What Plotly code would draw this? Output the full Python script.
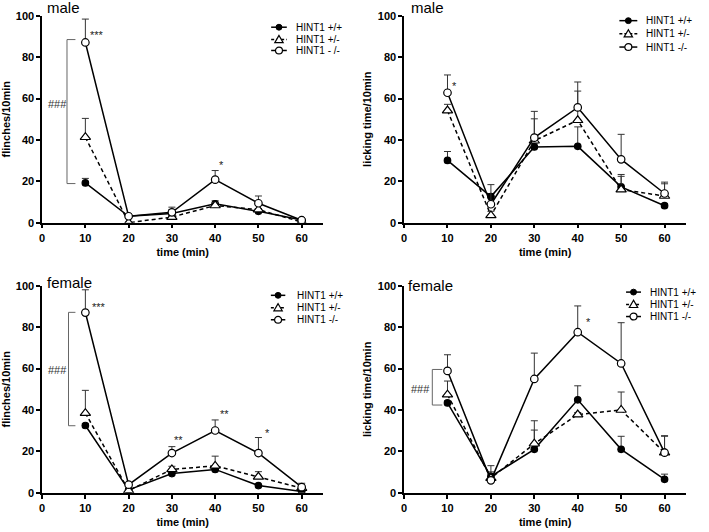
import plotly.graph_objects as go

# ---------------- data ----------------
time_min = [10, 20, 30, 40, 50, 60]
genotypes = ["HINT1 +/+", "HINT1 +/-", "HINT1 -/-"]
legend_labels_p1 = ["HINT1 +/+", "HINT1 +/-", "HINT1 - /-"]
panel_titles = ["male", "male", "female", "female"]
y_titles = ["flinches/10min", "licking time/10min", "flinches/10min", "licking time/10min"]
x_title = "time (min)"
x_ticks = [0, 10, 20, 30, 40, 50, 60]
y_ticks = [0, 20, 40, 60, 80, 100]

# male flinches
m_fl_wt = [19.2, 3.1, 4.4, 9.1, 5.5, 1.3]
m_fl_wt_err = [2.2, 0.5, 2.0, 1.5, 1.0, 0.3]
m_fl_het = [41.3, 0.0, 2.7, 8.3, 6.3, 0.3]
m_fl_het_err = [9.1, 0.3, 0.5, 1.5, 0.5, 0.3]
m_fl_ko = [87.1, 3.1, 5.0, 20.8, 9.4, 1.2]
m_fl_ko_err = [11.3, 0.5, 2.5, 4.4, 3.5, 0.3]

# male licking
m_lk_wt = [30.1, 12.6, 36.6, 36.9, 17.3, 8.2]
m_lk_wt_err = [4.3, 1.5, 1.5, 9.4, 6.0, 1.0]
m_lk_het = [54.2, 3.5, 39.6, 49.5, 16.0, 12.9]
m_lk_het_err = [3.0, 2.0, 10.6, 14.1, 6.4, 5.9]
m_lk_ko = [62.8, 8.9, 41.1, 55.7, 30.6, 14.1]
m_lk_ko_err = [8.6, 9.5, 12.7, 12.3, 12.1, 5.5]

# female flinches
f_fl_wt = [32.5, 1.4, 9.3, 11.3, 3.5, 0.6]
f_fl_wt_err = [1.0, 0.5, 1.0, 1.5, 0.5, 0.3]
f_fl_het = [38.5, 1.1, 11.3, 13.0, 7.7, 2.2]
f_fl_het_err = [11.0, 0.3, 1.5, 4.7, 2.5, 0.5]
f_fl_ko = [87.1, 3.9, 19.2, 30.1, 19.2, 2.7]
f_fl_ko_err = [11.0, 0.5, 3.1, 5.1, 7.5, 1.9]

# female licking
f_lk_wt = [43.4, 7.9, 21.0, 44.9, 21.0, 6.5]
f_lk_wt_err = [1.0, 5.2, 9.3, 6.8, 6.3, 2.5]
f_lk_het = [47.4, 7.1, 23.7, 37.8, 40.0, 19.4]
f_lk_het_err = [6.6, 3.0, 11.1, 1.0, 8.7, 8.2]
f_lk_ko = [58.9, 6.0, 55.0, 77.6, 62.5, 19.4]
f_lk_ko_err = [7.8, 1.0, 12.5, 12.7, 19.7, 7.9]

# significance marks (text, x, y) per panel
stars_p1 = [("***", 12.8, 90.5), ("*", 41.4, 27.9)]
stars_p2 = [("*", 11.7, 65.9)]
stars_p3 = [("***", 13.2, 89.9), ("**", 31.6, 25.4), ("**", 42.2, 37.9), ("*", 52.1, 29.0)]
stars_p4 = [("*", 42.4, 82.3)]

# "###" bracket: (x_line, x_tick_end, y_low, y_high, text_x, text_y)
bracket_p1 = (5.75, 7.7, 18.9, 88.5, 3.45, 57.5)
bracket_p3 = (6.1, 7.7, 32.4, 87.2, 3.6, 59.5)
bracket_p4 = (6.5, 8.8, 42.4, 59.6, 3.8, 50.0)

# ---------------- layout helpers ----------------
W, H = 709, 532
FONT = "Arial, Liberation Sans, sans-serif"

x_domains = [[0.0554, 0.4537], [0.5681, 0.9678], [0.0554, 0.4537], [0.5681, 0.9678]]
y_domains = [[0.5833, 0.9812], [0.5833, 0.9812], [0.0639, 0.4618], [0.0639, 0.4618]]

panels = [
    (m_fl_wt, m_fl_wt_err, m_fl_het, m_fl_het_err, m_fl_ko, m_fl_ko_err),
    (m_lk_wt, m_lk_wt_err, m_lk_het, m_lk_het_err, m_lk_ko, m_lk_ko_err),
    (f_fl_wt, f_fl_wt_err, f_fl_het, f_fl_het_err, f_fl_ko, f_fl_ko_err),
    (f_lk_wt, f_lk_wt_err, f_lk_het, f_lk_het_err, f_lk_ko, f_lk_ko_err),
]

fig = go.Figure()

styles = [
    dict(dash="solid", symbol="circle", mcolor="black", size=6.5),
    dict(dash="4px,3px", symbol="triangle-up", mcolor="white", size=9),
    dict(dash="solid", symbol="circle", mcolor="white", size=7.5),
]

for i, pdata in enumerate(panels):
    xa = "x" if i == 0 else f"x{i+1}"
    ya = "y" if i == 0 else f"y{i+1}"
    series = [(pdata[0], pdata[1]), (pdata[2], pdata[3]), (pdata[4], pdata[5])]
    for j, (vals, errs) in enumerate(series):
        st = styles[j]
        fig.add_trace(go.Scatter(
            x=time_min, y=vals, xaxis=xa, yaxis=ya, mode="lines+markers",
            name=genotypes[j], showlegend=False,
            line=dict(color="black", width=1.5, dash=st["dash"]),
            marker=dict(symbol=st["symbol"], size=st["size"], color=st["mcolor"],
                        line=dict(color="black", width=1.2)),
            error_y=dict(type="data", symmetric=False, array=errs,
                         arrayminus=[0] * len(errs), color="#333333",
                         thickness=1, width=3.5),
        ))

axis_common = dict(showline=True, linecolor="black", linewidth=1.5, ticks="outside",
                   ticklen=4, tickwidth=1.5, tickcolor="black", showgrid=False,
                   zeroline=False, tickfont=dict(family=FONT, size=11, color="black",
                                                 weight="bold"))
layout_axes = {}
for i in range(4):
    xk = "xaxis" if i == 0 else f"xaxis{i+1}"
    yk = "yaxis" if i == 0 else f"yaxis{i+1}"
    ya = "y" if i == 0 else f"y{i+1}"
    xa = "x" if i == 0 else f"x{i+1}"
    layout_axes[xk] = dict(axis_common, domain=x_domains[i], anchor=ya, range=[0, 65],
                           tickvals=x_ticks,
                           title=dict(text=x_title, standoff=6,
                                      font=dict(family=FONT, size=11, color="black",
                                                weight="bold")))
    layout_axes[yk] = dict(axis_common, domain=y_domains[i], anchor=xa, range=[0, 100],
                           tickvals=y_ticks,
                           title=dict(text=y_titles[i], standoff=4,
                                      font=dict(family=FONT, size=11, color="black",
                                                weight="bold")))
fig.update_layout(**layout_axes)

annotations = []
shapes = []

# panel titles
title_pos = [(0.009, 1.038), (0.018, 1.038), (0.009, 1.014), (0.007, 1.002)]
for i in range(4):
    xa = "x" if i == 0 else f"x{i+1}"
    ya = "y" if i == 0 else f"y{i+1}"
    annotations.append(dict(text=panel_titles[i], xref=f"{xa} domain", yref=f"{ya} domain",
                            x=title_pos[i][0], y=title_pos[i][1], xanchor="left",
                            yanchor="middle", showarrow=False,
                            font=dict(family=FONT, size=15, color="black")))

# significance stars
for i, stars in [(0, stars_p1), (1, stars_p2), (2, stars_p3), (3, stars_p4)]:
    xa = "x" if i == 0 else f"x{i+1}"
    ya = "y" if i == 0 else f"y{i+1}"
    for txt, sx, sy in stars:
        annotations.append(dict(text=txt, xref=xa, yref=ya, x=sx, y=sy, showarrow=False,
                                font=dict(family=FONT, size=11, color="#222222")))

# brackets
for i, br in [(0, bracket_p1), (2, bracket_p3), (3, bracket_p4)]:
    xa = "x" if i == 0 else f"x{i+1}"
    ya = "y" if i == 0 else f"y{i+1}"
    xl, xt, y0, y1, tx, ty = br
    shapes.append(dict(type="path", xref=xa, yref=ya,
                       path=f"M {xt},{y1} L {xl},{y1} L {xl},{y0} L {xt},{y0}",
                       line=dict(color="#666666", width=1)))
    annotations.append(dict(text="###", xref=xa, yref=ya, x=tx, y=ty, showarrow=False,
                            font=dict(family=FONT, size=11, color="#333333")))

# manual legends (pixel positions -> paper)
def px(xp):
    return xp / W

def py(yp):
    return 1 - yp / H

legend_specs = [
    (269.3, 285.0, 292.7, [21.7, 34.3, 45.5], legend_labels_p1),
    (619.0, 637.0, 643.3, [15.0, 28.5, 42.0], genotypes),
    (269.0, 283.5, 293.0, [296.0, 308.7, 321.0], genotypes),
    (625.7, 640.7, 648.0, [292.7, 305.3, 317.7], genotypes),
]
for (lx0, lx1, tx, rows, labels) in legend_specs:
    mx = (lx0 + lx1) / 2
    for j, ry in enumerate(rows):
        shapes.append(dict(type="line", xref="paper", yref="paper",
                           x0=px(lx0), x1=px(lx1), y0=py(ry), y1=py(ry),
                           line=dict(color="black", width=1.5,
                                     dash="solid" if j != 1 else "3px,2px")))
        if j == 0:
            r = 3.0
            shapes.append(dict(type="circle", xref="paper", yref="paper",
                               x0=px(mx - r), x1=px(mx + r), y0=py(ry + r), y1=py(ry - r),
                               fillcolor="black", line=dict(color="black", width=1)))
        elif j == 1:
            s = 4.2
            path = (f"M {px(mx)},{py(ry - s)} L {px(mx - s)},{py(ry + s * 0.75)} "
                    f"L {px(mx + s)},{py(ry + s * 0.75)} Z")
            shapes.append(dict(type="path", xref="paper", yref="paper", path=path,
                               fillcolor="white", line=dict(color="black", width=1.2)))
        else:
            r = 3.5
            shapes.append(dict(type="circle", xref="paper", yref="paper",
                               x0=px(mx - r), x1=px(mx + r), y0=py(ry + r), y1=py(ry - r),
                               fillcolor="white", line=dict(color="black", width=1.2)))
        annotations.append(dict(text=labels[j], xref="paper", yref="paper",
                                x=px(tx), y=py(ry), xanchor="left", yanchor="middle",
                                showarrow=False,
                                font=dict(family=FONT, size=10, color="black")))

fig.update_layout(width=W, height=H, margin=dict(l=0, r=0, t=0, b=0),
                  paper_bgcolor="white", plot_bgcolor="white", showlegend=False,
                  annotations=annotations, shapes=shapes,
                  font=dict(family=FONT, color="black"))

fig.write_html("out.html", config={"displayModeBar": False},
               post_script="document.body.style.margin='0';document.body.style.overflow='hidden';")
